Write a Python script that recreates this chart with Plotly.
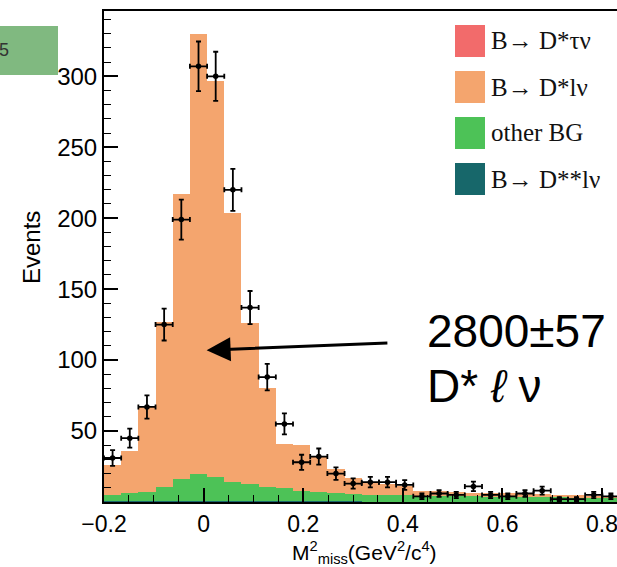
import plotly.graph_objects as go

# ---------------- data ----------------
bin_start = -0.2
bin_width = 0.0345
n_bins = 30

data_counts = [31, 45, 67, 125, 199, 307, 300, 220, 137, 88, 55, 28, 32, 20, 13,
               14, 14, 12, 4, 6, 5, 11, 5, 4, 6, 8, 2, 2, 5, 4]
data_errors = [5.6, 6.7, 8.2, 11.2, 14.1, 17.5, 17.3, 14.8, 11.7, 9.4, 7.4, 5.3, 5.7, 4.4, 3.6,
               3.7, 3.7, 3.4, 2.0, 2.4, 2.2, 3.3, 2.2, 2.0, 2.4, 2.8, 1.4, 1.4, 2.2, 2.0]

dsslnu = [0.6, 0.6, 0.6, 0.8, 1.0, 1.0, 1.0, 0.8, 0.8, 0.6, 0.6, 0.5, 0.5, 0.4, 0.4,
          0.3, 0.3, 0.3, 0.3, 0.3, 0.3, 0.3, 0.3, 0.3, 0.3, 0.3, 0.3, 0.3, 0.3, 0.3]
other_bg = [4.3, 5.5, 6.7, 9.5, 15.0, 18.5, 16.4, 13.5, 11.9, 10.2, 9.0, 7.5, 6.8, 5.7, 5.2,
            4.9, 4.7, 4.5, 4.2, 4.0, 3.7, 3.7, 3.5, 3.3, 3.2, 3.1, 2.9, 2.7, 2.7, 2.7]
dslnu = [21.1, 29.9, 59.7, 116.7, 201.0, 310.5, 279.6, 189.7, 113.3, 69.2, 31.4, 32.0, 24.7, 17.4, 11.2,
         8.8, 8.0, 6.2, 3.5, 3.2, 3.0, 2.5, 2.2, 2.4, 2.0, 2.1, 1.8, 2.0, 1.5, 1.5]
dstaunu = [0.0, 0.0, 0.0, 0.0, 0.0, 0.0, 0.0, 0.0, 0.0, 0.0, 0.0, 0.0, 0.0, 0.0, 0.0,
           0.0, 0.0, 0.0, 0.0, 0.0, 0.0, 0.0, 0.0, 0.0, 0.0, 0.0, 0.0, 0.0, 0.0, 0.0]

legend_names = ["B\u2192 D*\u03c4\u03bd", "B\u2192 D*l\u03bd", "other BG", "B\u2192 D**l\u03bd"]

x_tick_vals = [-0.2, 0, 0.2, 0.4, 0.6, 0.8]
x_tick_text = ["\u22120.2", "0", "0.2", "0.4", "0.6", "0.8"]
y_tick_vals = [50, 100, 150, 200, 250, 300]

x_title = "M<sup>2</sup><sub>miss</sub>(GeV<sup>2</sup>/c<sup>4</sup>)"
y_title = "Events"
yield_text = "2800\u00b157"
yield_label = "D* <i>\u2113</i> \u03bd"

# ---------------- style ----------------
C_TAU = "#F26B6B"
C_LNU = "#F4A56E"
C_BG = "#4DC257"
C_DSS = "#17676A"

W, H = 617, 567
L, R, T, B = 104, 0, 11, 65

centers = [bin_start + (i + 0.5) * bin_width for i in range(n_bins)]

fig = go.Figure()
for vals, col, name in [(dsslnu, C_DSS, legend_names[3]),
                        (other_bg, C_BG, legend_names[2]),
                        (dslnu, C_LNU, legend_names[1]),
                        (dstaunu, C_TAU, legend_names[0])]:
    fig.add_trace(go.Bar(x=centers, y=vals, width=bin_width, marker=dict(color=col, line=dict(width=0)),
                         name=name, showlegend=False))

fig.add_trace(go.Scatter(
    x=centers, y=data_counts, mode="markers",
    marker=dict(color="black", size=5.5),
    error_y=dict(type="data", array=data_errors, color="black", thickness=1.8, width=2.5),
    error_x=dict(type="constant", value=bin_width / 2, color="black", thickness=1.8, width=2.5),
    showlegend=False, cliponaxis=False))

def pxx(p):
    return (p - L) / (W - L - R)

def pxy(p):
    return (H - B - p) / (H - T - B)

shapes = []
annotations = []
# legend drawn as boxes + text
box_tops = [25, 71, 117, 163]
for i, (nm, col) in enumerate(zip(legend_names, [C_TAU, C_LNU, C_BG, C_DSS])):
    y0 = box_tops[i]
    shapes.append(dict(type="rect", xref="paper", yref="paper",
                       x0=pxx(455), x1=pxx(485), y0=pxy(y0 + 32), y1=pxy(y0),
                       fillcolor=col, line=dict(width=0)))
    annotations.append(dict(xref="paper", yref="paper", x=pxx(489), y=pxy(y0 + 16),
                            xanchor="left", yanchor="middle", showarrow=False, text=nm,
                            font=dict(family="Liberation Serif", size=25, color="#111")))

# slide-number box at top-left
shapes.append(dict(type="rect", xref="paper", yref="paper",
                   x0=pxx(-5), x1=pxx(58), y0=pxy(75), y1=pxy(26),
                   fillcolor="#80B980", line=dict(width=0), layer="above"))
annotations.append(dict(xref="paper", yref="paper", x=pxx(4), y=pxy(50),
                        xanchor="center", yanchor="middle", showarrow=False, text="5",
                        font=dict(family="Liberation Sans", size=18, color="#333")))

# axis titles
annotations.append(dict(xref="paper", yref="paper", x=pxx(364), y=pxy(552),
                        xanchor="center", yanchor="middle", showarrow=False, text=x_title,
                        font=dict(family="Liberation Sans", size=21, color="black")))
annotations.append(dict(xref="paper", yref="paper", x=pxx(31), y=pxy(248),
                        xanchor="center", yanchor="middle", showarrow=False, text=y_title,
                        textangle=-90,
                        font=dict(family="Liberation Sans", size=24, color="black")))

# yield annotation + arrow
annotations.append(dict(xref="paper", yref="paper", x=pxx(425), y=pxy(331),
                        xanchor="left", yanchor="middle", showarrow=False, text=yield_text,
                        font=dict(family="Liberation Sans", size=46, color="black")))
annotations.append(dict(xref="paper", yref="paper", x=pxx(425), y=pxy(386),
                        xanchor="left", yanchor="middle", showarrow=False, text=yield_label,
                        font=dict(family="Liberation Sans", size=46, color="black")))
annotations.append(dict(x=0.006, y=107, xref="x", yref="y", ax=0.372, ay=112, axref="x", ayref="y",
                        text="", showarrow=True, arrowhead=2, arrowsize=1.6, arrowwidth=3,
                        arrowcolor="black"))

fig.update_layout(
    width=W, height=H, margin=dict(l=L, r=R, t=T, b=B),
    paper_bgcolor="white", plot_bgcolor="white",
    barmode="stack", bargap=0,
    shapes=shapes, annotations=annotations,
    font=dict(family="Liberation Sans", color="black"),
)
fig.update_xaxes(range=[-0.2, 0.83], tickvals=x_tick_vals, ticktext=x_tick_text,
                 ticklabeloverflow="allow",
                 ticks="inside", ticklen=14, tickwidth=1.5, tickcolor="black",
                 minor=dict(ticks="inside", ticklen=7, tick0=0, dtick=0.05, tickcolor="black", tickwidth=1.2),
                 showline=True, linecolor="black", linewidth=2, mirror=True,
                 showgrid=False, zeroline=False,
                 tickfont=dict(size=23, family="Liberation Sans"))
fig.update_yaxes(range=[0, 346], tickvals=y_tick_vals,
                 ticks="inside", ticklen=14, tickwidth=1.5, tickcolor="black",
                 minor=dict(ticks="inside", ticklen=7, tick0=0, dtick=10, tickcolor="black", tickwidth=1.2),
                 showline=True, linecolor="black", linewidth=2, mirror=False,
                 showgrid=False, zeroline=False,
                 tickfont=dict(size=24, family="Liberation Sans"))

fig.write_html("out.html")
